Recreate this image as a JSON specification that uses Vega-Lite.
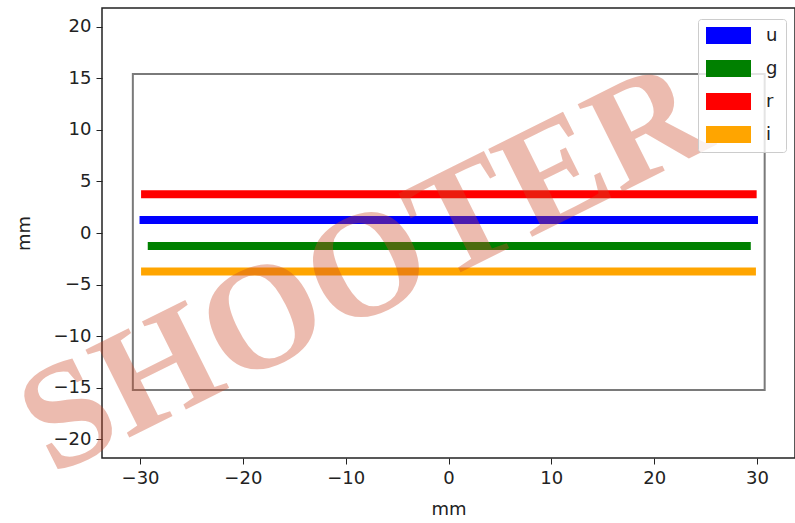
{
  "$schema": "https://vega.github.io/schema/vega-lite/v6.json",
  "autosize": {"type": "none"},
  "width": 693,
  "height": 450,
  "padding": {"left": 102, "top": 8, "right": 0, "bottom": 65},
  "background": "white",
  "datasets": {
    "bands": [
      {"band": "u", "x": -30.05, "y": 1.26},
      {"band": "u", "x": 30.1, "y": 1.26},
      {"band": "g", "x": -29.25, "y": -1.26},
      {"band": "g", "x": 29.4, "y": -1.26},
      {"band": "r", "x": -29.9, "y": 3.75},
      {"band": "r", "x": 29.97, "y": 3.75},
      {"band": "i", "x": -29.9, "y": -3.74},
      {"band": "i", "x": 29.9, "y": -3.74}
    ],
    "frame": [{"x1": -30.7, "x2": 30.75, "y1": -15.2, "y2": 15.4}],
    "mark": [{"text": "SHOOTER", "x": -8.2, "y": -3.6}]
  },
  "layer": [
    {
      "data": {"name": "frame"},
      "mark": {"type": "rect", "fill": null, "stroke": "#7a7a7a", "strokeWidth": 2},
      "encoding": {
        "x": {"field": "x1", "type": "quantitative", "scale": {"domain": [-33.7, 33.7], "nice": false, "zero": false},
          "axis": {"values": [-30, -20, -10, 0, 10, 20, 30], "title": "mm", "grid": false, "domain": false,
            "tickSize": 6, "tickColor": "#222", "labelPadding": 5, "labelFontSize": 18, "labelColor": "#222",
            "titleFontSize": 18, "titleColor": "#222", "titleFontWeight": "normal", "titlePadding": 13,
            "labelExpr": "replace(datum.label, '-', '\u2212')"}},
        "x2": {"field": "x2"},
        "y": {"field": "y1", "type": "quantitative", "scale": {"domain": [-21.8, 21.8], "nice": false, "zero": false},
          "axis": {"values": [-20, -15, -10, -5, 0, 5, 10, 15, 20], "title": "mm", "grid": false, "domain": false,
            "tickSize": 6, "tickColor": "#222", "labelPadding": 5, "labelFontSize": 18, "labelColor": "#222",
            "titleFontSize": 18, "titleColor": "#222", "titleFontWeight": "normal", "titlePadding": 20,
            "labelExpr": "replace(datum.label, '-', '\u2212')"}},
        "y2": {"field": "y2"}
      }
    },
    {
      "data": {"name": "bands"},
      "mark": {"type": "line", "strokeWidth": 8, "strokeCap": "butt"},
      "encoding": {
        "x": {"field": "x", "type": "quantitative"},
        "y": {"field": "y", "type": "quantitative"},
        "color": {"field": "band", "type": "nominal",
          "scale": {"domain": ["u", "g", "r", "i"], "range": ["#0000ff", "#008000", "#ff0000", "#ffa500"]},
          "legend": {"title": null, "orient": "none", "legendX": 596, "legendY": 11,
            "symbolType": "M-1,-0.38H1V0.38H-1Z", "symbolSize": 2025, "symbolStrokeWidth": 0,
            "clipHeight": 17, "rowPadding": 14, "labelFontSize": 18, "labelColor": "#222", "labelOffset": 15,
            "padding": 8, "strokeColor": "#cccccc", "fillColor": "rgba(255,255,255,0.8)", "cornerRadius": 3,
            "encode": {"symbols": {"update": {"fill": {"scale": "color", "field": "value"}, "fillOpacity": {"value": 1}}}}}}
      }
    },
    {
      "data": {"name": "mark"},
      "mark": {"type": "text", "angle": -26.5, "fontSize": 150, "font": "Liberation Serif", "fontWeight": "bold",
        "fill": "#cc4a28", "opacity": 0.37, "align": "center", "baseline": "middle"},
      "encoding": {
        "x": {"field": "x", "type": "quantitative"},
        "y": {"field": "y", "type": "quantitative"},
        "text": {"field": "text"}
      }
    }
  ],
  "config": {
    "font": "DejaVu Sans",
    "view": {"stroke": "#222", "strokeWidth": 1.5}
  }
}
